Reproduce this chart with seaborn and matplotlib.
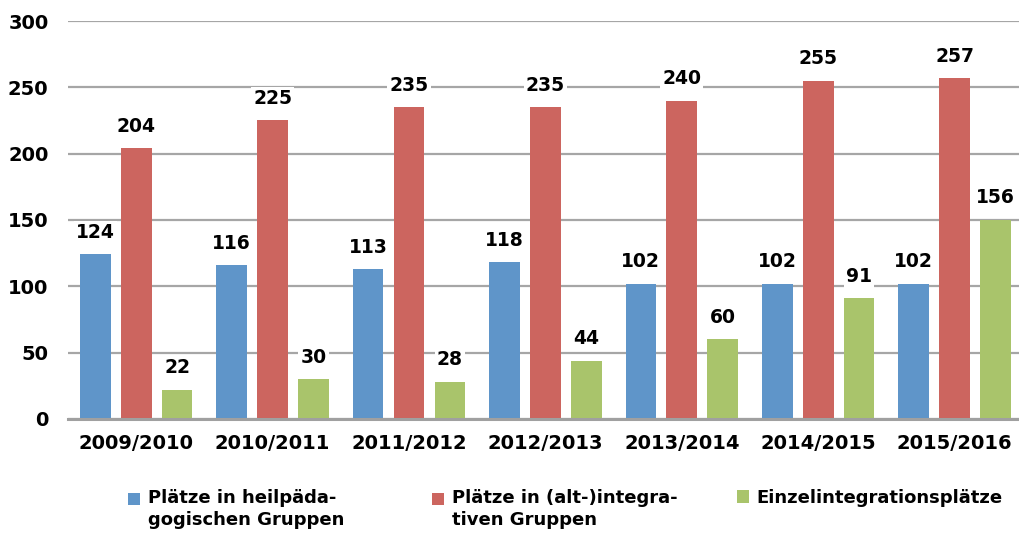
import matplotlib
matplotlib.use("Agg")
import matplotlib.pyplot as plt
import seaborn as sns
import pandas as pd
from matplotlib.patches import Rectangle
from matplotlib.legend_handler import HandlerPatch

# data
jahre = ["2009/2010", "2010/2011", "2011/2012", "2012/2013",
         "2013/2014", "2014/2015", "2015/2016"]
heilpaed = [124, 116, 113, 118, 102, 102, 102]
integrativ = [204, 225, 235, 235, 240, 255, 257]
einzel = [22, 30, 28, 44, 60, 91, 150]          # bar as drawn
einzel_labels = [22, 30, 28, 44, 60, 91, 156]   # label as printed

gruppen = ["Plätze in heilpäda-\ngogischen Gruppen",
           "Plätze in (alt-)integra-\ntiven Gruppen",
           "Einzelintegrationsplätze"]
farben = ["#5f95c9", "#cc655f", "#a9c46b"]

rows = []
for g, werte in zip(gruppen, [heilpaed, integrativ, einzel]):
    for j, v in zip(jahre, werte):
        rows.append({"Jahr": j, "Plätze": v, "Gruppe": g})
df = pd.DataFrame(rows)


class TopSquare(HandlerPatch):
    """square legend key sitting on the first text line"""
    def create_artists(self, legend, orig_handle, xdescent, ydescent,
                       width, height, fontsize, trans):
        s = fontsize * 0.66
        p = Rectangle((-xdescent, -ydescent + height - s + 2.5), s, s,
                      facecolor=orig_handle.get_facecolor(),
                      edgecolor="none", transform=trans)
        return [p]


sns.set_style("white")
plt.rcParams["font.family"] = ["DejaVu Sans"]
plt.rcParams["font.weight"] = "bold"
plt.rcParams["text.color"] = "black"

fig = plt.figure(figsize=(10.19, 5.33), dpi=100)
ax = fig.add_axes([0.0667, 0.214, 0.937, 0.7466])

sns.barplot(data=df, x="Jahr", y="Plätze", hue="Gruppe", palette=farben,
            width=0.9, gap=0.25, saturation=1, linewidth=0, ax=ax)

label_lists = [heilpaed, integrativ, einzel_labels]
for cont, labs in zip(ax.containers, label_lists):
    ax.bar_label(cont, labels=[str(l) for l in labs], padding=9,
                 fontsize=13.5, fontweight="bold", color="black",
                 bbox=dict(facecolor="white", edgecolor="none", pad=1.5))

ax.set_ylim(0, 300)
ax.set_xlim(-0.5, 6.5)
ax.set_yticks(range(0, 301, 50))
ax.yaxis.grid(True, color="#a6a6a6", linewidth=1.6)
ax.set_axisbelow(True)
ax.set_xlabel("")
ax.set_ylabel("")
for s in ["top", "left", "right"]:
    ax.spines[s].set_visible(False)
ax.spines["bottom"].set_color("#a0a0a0")
ax.spines["bottom"].set_linewidth(2.2)
ax.tick_params(axis="both", length=0, labelsize=14, labelcolor="black")
ax.tick_params(axis="x", pad=11)
ax.tick_params(axis="y", pad=14)
for t in ax.get_xticklabels() + ax.get_yticklabels():
    t.set_fontweight("bold")

handles, labels = ax.get_legend_handles_labels()
ax.get_legend().remove()
anker = [0.126, 0.424, 0.723]
for h, l, x in zip(handles, labels, anker):
    zwei = "\n" in l
    leg = fig.legend([h], [l], loc="upper left", bbox_to_anchor=(x, 0.083),
                     frameon=False, fontsize=13, handlelength=0.66,
                     handleheight=2.0 if zwei else 0.66, handletextpad=0.45,
                     borderpad=0, borderaxespad=0,
                     handler_map={h: TopSquare()} if zwei else None)
    for t in leg.get_texts():
        t.set_linespacing(1.3)

fig.savefig("out.png", dpi=100)
